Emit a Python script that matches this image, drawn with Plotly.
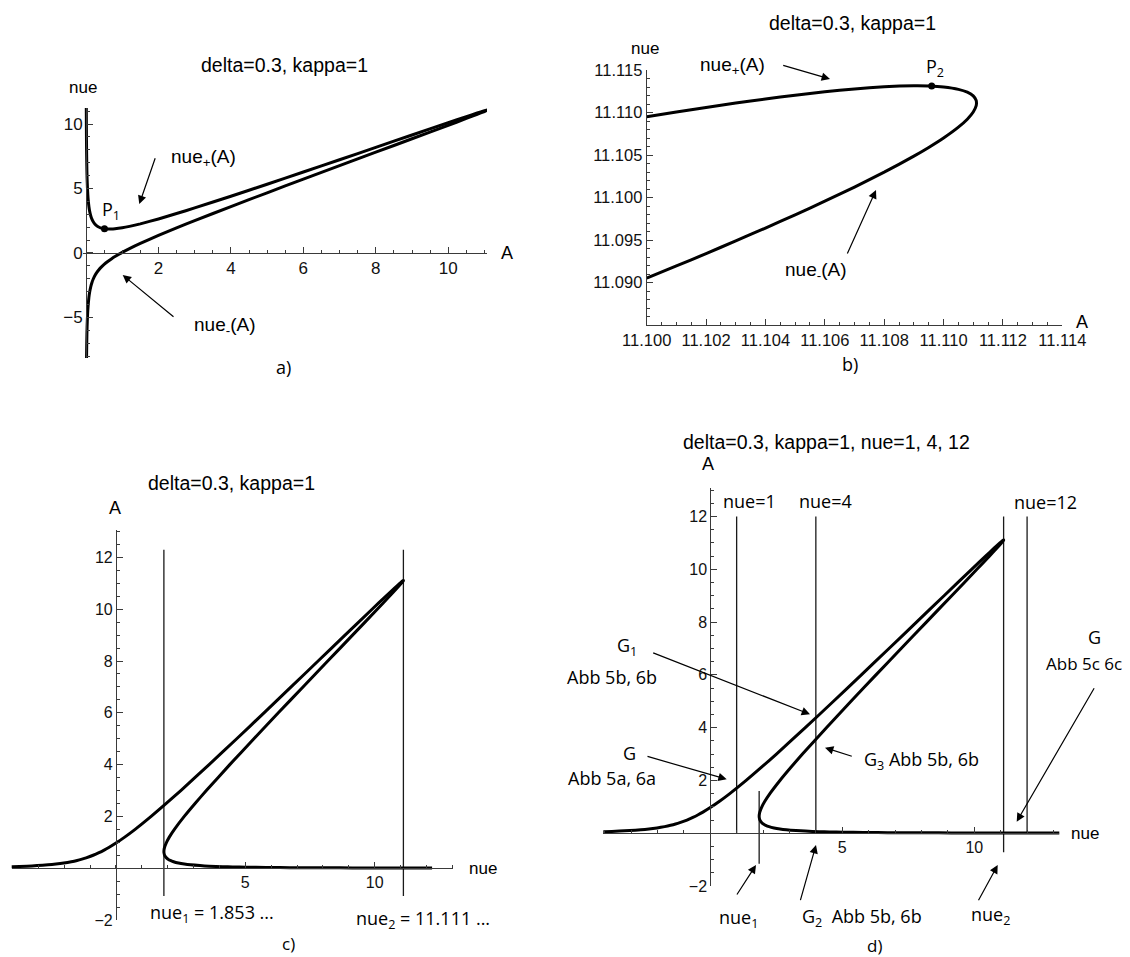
import plotly.graph_objects as go

# window is 1130x957; the page body keeps its default 8 px margin, so the figure is drawn
# 8 px smaller and all layout positions are given in window pixels minus that offset
WIN_W, WIN_H = 1130, 957
OFF = 8
W, H = WIN_W - OFF, WIN_H - OFF

# ---------------- data ----------------
# amplitude A and the two frequency branches nue_+(A), nue_-(A)  (delta=0.3, kappa=1)
A_vals = [0.005, 0.0067, 0.008, 0.01, 0.012, 0.015, 0.02, 0.025, 0.03, 0.04,
          0.05, 0.06, 0.08, 0.1, 0.13, 0.16, 0.2, 0.25, 0.3, 0.35,
          0.4, 0.5, 0.6, 0.7, 0.8, 1.0, 1.2, 1.5, 2.0, 2.5,
          3.0, 4.0, 5.0, 6.0, 7.0, 8.0, 9.0, 10.0, 10.5, 10.8,
          11.0, 11.05, 11.09, 11.111, 11.1111]
nue_plus = [14.144, 12.220, 11.184, 10.006, 9.136, 8.175, 7.085, 6.342, 5.796, 5.031,
            4.512, 4.131, 3.603, 3.248, 2.887, 2.642, 2.416, 2.227, 2.101, 2.014,
            1.952, 1.882, 1.856, 1.857, 1.877, 1.954, 2.062, 2.259, 2.640, 3.057,
            3.493, 4.400, 5.332, 6.277, 7.230, 8.187, 9.145, 10.100, 10.572, 10.851,
            11.030, 11.072, 11.103, 11.112, 11.1111]
nue_minus = [-14.134, -12.206, -11.168, -9.986, -9.112, -8.145, -7.045, -6.292, -5.736, -4.951,
             -4.412, -4.011, -3.443, -3.048, -2.627, -2.322, -2.016, -1.727, -1.501, -1.314,
             -1.152, -0.882, -0.656, -0.457, -0.277, 0.046, 0.338, 0.741, 1.360, 1.943,
             2.507, 3.600, 4.668, 5.723, 6.770, 7.813, 8.855, 9.900, 10.428, 10.749,
             10.970, 11.028, 11.077, 11.110, 11.1111]

# zoomed branch data near the turning point (panel b)
A_b = [11.100, 11.101, 11.102, 11.103, 11.104, 11.105, 11.106, 11.107, 11.108, 11.109,
       11.1095, 11.110, 11.1105, 11.1108, 11.111, 11.1111, 11.11111]
nue_plus_b = [11.109492, 11.110054, 11.110594, 11.111109, 11.111592, 11.112038, 11.112436,
              11.112772, 11.113021, 11.113135, 11.113113, 11.113000, 11.112725, 11.112387,
              11.111949, 11.111411, 11.111111]
nue_minus_b = [11.090508, 11.091946, 11.093406, 11.094891, 11.096408, 11.097962, 11.099564,
               11.101229, 11.102979, 11.104865, 11.105888, 11.107000, 11.108275, 11.109213,
               11.110051, 11.110811, 11.111111]

P1 = (0.51, 1.88)
P2 = (11.1096, 11.11311)

nue_1 = 1.853
nue_2 = 11.111
c_line_A = [-1.07, 12.3]
d_nue_lines = [1.0, 4.0, 12.0]
d_nue_lines_A = [0.0, 12.0]
d_nue2_A = [-0.72, 12.0]
d_nue1_A = [-1.16, 1.6]

# tick values
a_xticks = [2, 4, 6, 8, 10]
a_yticks = [-5, 0, 5, 10]
b_xticks = [11.100, 11.102, 11.104, 11.106, 11.108, 11.110, 11.112, 11.114]
b_yticks = [11.090, 11.095, 11.100, 11.105, 11.110, 11.115]
cd_xticks = [5, 10]
cd_yticks = [-2, 2, 4, 6, 8, 10, 12]

# ---------------- helpers ----------------
def px(x):
    return (x - OFF) / W

def py(y):
    return 1 - (y - OFF) / H

ARIAL = "Liberation Sans, Arial, sans-serif"
MYRIAD = "Open Sans, Noto Sans, sans-serif"
AXC = "#3a3a3a"
CURVE = dict(color="black", width=3, shape="spline", smoothing=0.5)
VLINE = dict(color="#1a1a1a", width=1.3)

fig = go.Figure()

def curve(x, y, xa, ya, ln=CURVE):
    fig.add_trace(go.Scatter(x=x, y=y, mode="lines", line=ln, xaxis=xa, yaxis=ya,
                             hoverinfo="skip", showlegend=False))

def vlines(xs, ys, xa, ya):
    X, Y = [], []
    for v in xs:
        X += [v, v, None]
        Y += [ys[0], ys[1], None]
    fig.add_trace(go.Scatter(x=X, y=Y, mode="lines", line=VLINE, xaxis=xa, yaxis=ya,
                             hoverinfo="skip", showlegend=False))

# panel a
curve(A_vals, nue_plus, "x", "y")
curve(A_vals, nue_minus, "x", "y")
fig.add_trace(go.Scatter(x=[P1[0]], y=[P1[1]], mode="markers", marker=dict(color="black", size=7),
                         xaxis="x", yaxis="y", showlegend=False))
# panel b
curve(A_b + A_b[::-1], nue_plus_b + nue_minus_b[::-1], "x2", "y2")
fig.add_trace(go.Scatter(x=[P2[0]], y=[P2[1]], mode="markers", marker=dict(color="black", size=7),
                         xaxis="x2", yaxis="y2", showlegend=False))
# panel c
vlines([nue_1, nue_2], c_line_A, "x3", "y3")
curve(nue_plus[1:], A_vals[1:], "x3", "y3")
curve(nue_minus, A_vals, "x3", "y3")
# panel d
vlines(d_nue_lines, d_nue_lines_A, "x4", "y4")
vlines([nue_2], d_nue2_A, "x4", "y4")
vlines([nue_1], d_nue1_A, "x4", "y4")
curve(nue_plus, A_vals, "x4", "y4")
curve(nue_minus, A_vals, "x4", "y4")


def cross_pos(dom, rng, v):
    return dom[0] + (v - rng[0]) / (rng[1] - rng[0]) * (dom[1] - dom[0])


def ax(dom, rng, tickvals, minor_d, minor_0, anchor, position=None, fmt=None, fs=16):
    d = dict(domain=dom, range=rng, showline=True, linecolor=AXC, linewidth=1,
             showgrid=False, zeroline=False, ticks="inside", ticklen=6, tickwidth=1,
             tickcolor=AXC, tickmode="array", tickvals=tickvals,
             tickfont=dict(family=ARIAL, size=fs, color="#111"),
             minor=dict(tickmode="linear", tick0=minor_0, dtick=minor_d, ticks="inside",
                        ticklen=3, tickwidth=1, tickcolor=AXC, showgrid=False),
             anchor=anchor, automargin=False, fixedrange=True)
    if position is not None:
        d["position"] = position
    if fmt:
        d["tickformat"] = fmt
    return d

# panel a geometry (plot area starts a few px left of the A=0 axis so the steep branch stays visible)
xa_dom = [px(83), px(487)]; xa_rng = [-0.083, 11.07]
ya_dom = [py(358), py(108)]; ya_rng = [-8.14, 11.24]
# panel b geometry
xb_dom = [px(646.7), px(1062.3)]; xb_rng = [11.100, 11.114]
yb_dom = [py(325), py(70)]; yb_rng = [11.085, 11.115]
# panel c geometry
xc_dom = [px(11.7), px(453.3)]; xc_rng = [-4.03, 13.04]
yc_dom = [py(920), py(530)]; yc_rng = [-2.0, 13.06]
# panel d geometry
xd_dom = [px(603.3), px(1059.3)]; xd_rng = [-4.05, 13.22]
yd_dom = [py(886), py(488.3)]; yd_rng = [-2.0, 13.07]

fig.update_layout(
    width=W, height=H, margin=dict(l=0, r=0, t=0, b=0),
    paper_bgcolor="white", plot_bgcolor="white", showlegend=False,
    xaxis=ax(xa_dom, xa_rng, a_xticks, 0.5, 0, "free", cross_pos(ya_dom, ya_rng, 0), fs=17),
    yaxis=ax(ya_dom, ya_rng, a_yticks, 1, 0, "free", cross_pos(xa_dom, xa_rng, 0), fs=17),
    xaxis2=ax(xb_dom, xb_rng, b_xticks, 0.0005, 11.1, "y2", fmt=".3f", fs=16.5),
    yaxis2=ax(yb_dom, yb_rng, b_yticks, 0.001, 11.09, "x2", fmt=".3f", fs=16.5),
    xaxis3=ax(xc_dom, xc_rng, cd_xticks, 1, 0, "free", cross_pos(yc_dom, yc_rng, 0), fs=16),
    yaxis3=ax(yc_dom, yc_rng, cd_yticks, 0.5, 0, "free", cross_pos(xc_dom, xc_rng, 0), fs=16),
    xaxis4=ax(xd_dom, xd_rng, cd_xticks, 1, 0, "free", cross_pos(yd_dom, yd_rng, 0), fs=16),
    yaxis4=ax(yd_dom, yd_rng, cd_yticks, 0.5, 0, "free", cross_pos(xd_dom, xd_rng, 0), fs=16),
)

ann = []

def txt(x, y, s, size=18, fam=MYRIAD, xanchor="center"):
    ann.append(dict(x=px(x), y=py(y), xref="paper", yref="paper", text=s, showarrow=False,
                    xanchor=xanchor, yanchor="middle", font=dict(family=fam, size=size, color="black")))

def arrow(xt, yt, xh, yh):
    ann.append(dict(x=px(xh), y=py(yh), xref="paper", yref="paper", text="", showarrow=True,
                    ax=xt - xh, ay=yt - yh, arrowhead=2, arrowsize=1.4, arrowwidth=1.2,
                    arrowcolor="black", standoff=0, startstandoff=0))

# panel a texts
txt(284, 65, "delta=0.3, kappa=1", 19.5, ARIAL)
txt(83, 88, "nue", 17, ARIAL)
txt(507, 253, "A", 18, ARIAL)
txt(111, 210, "P<sub>1</sub>", 18)
txt(203, 158, "nue<sub>+</sub>(A)", 19, ARIAL)
txt(225, 326, "nue<sub>-</sub>(A)", 19, ARIAL)
arrow(155.7, 156.7, 139.3, 204)
arrow(175, 318, 122.7, 275)
txt(283, 367, "a)", 18)

# panel b texts
txt(852, 23, "delta=0.3, kappa=1", 19.5, ARIAL)
txt(645, 48, "nue", 17, ARIAL)
txt(1082, 322, "A", 18, ARIAL)
txt(935, 67, "P<sub>2</sub>", 18)
txt(732, 66, "nue<sub>+</sub>(A)", 19, ARIAL)
txt(815, 271, "nue<sub>-</sub>(A)", 19, ARIAL)
arrow(781.7, 65, 830, 79)
arrow(846.7, 255, 876, 190)
txt(850, 364, "b)", 18)

# panel c texts
txt(231, 483, "delta=0.3, kappa=1", 19.5, ARIAL)
txt(115, 508, "A", 18, ARIAL)
txt(483, 868, "nue", 17, ARIAL)
txt(212, 913, "nue<sub>1</sub> = 1.853 ...", 18)
txt(423, 919, "nue<sub>2</sub> = 11.111 ...", 18)
txt(288, 943, "c)", 17)

# panel d texts
txt(826, 442, "delta=0.3, kappa=1, nue=1, 4, 12", 19.5, ARIAL)
txt(708, 464, "A", 18, ARIAL)
txt(1085, 833, "nue", 17, ARIAL)
txt(749, 501, "nue=1", 18)
txt(825, 501, "nue=4", 18)
txt(1045, 502, "nue=12", 18)
txt(627, 646, "G<sub>1</sub>", 18)
txt(612, 677, "Abb 5b, 6b", 18)
txt(629, 753, "G", 18)
txt(612, 778, "Abb 5a, 6a", 18)
txt(862, 760, "G<sub>3</sub> Abb 5b, 6b", 18, xanchor="left")
txt(1094, 637, "G", 18)
txt(1084, 663, "Abb 5c 6c", 17)
txt(738, 918, "nue<sub>1</sub>", 18)
txt(800, 917, "G<sub>2</sub>  Abb 5b, 6b", 18, xanchor="left")
txt(990, 915, "nue<sub>2</sub>", 18)
txt(874, 945, "d)", 17)
arrow(651.7, 652.3, 810, 714.3)
arrow(646, 756, 726.7, 779.3)
arrow(853.3, 756.7, 825, 747.7)
arrow(1095, 686.7, 1016.7, 821.7)
arrow(736, 896, 756, 865)
arrow(800, 901.7, 816, 845)
arrow(977.7, 901.7, 997.7, 865)

fig.update_layout(annotations=ann)
fig.write_html("out.html")
